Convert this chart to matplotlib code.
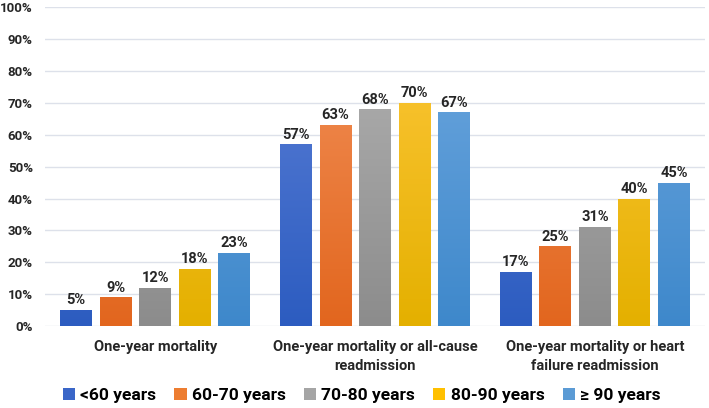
import numpy as np
import matplotlib
matplotlib.use('Agg')
import matplotlib.pyplot as plt
from matplotlib.colors import LinearSegmentedColormap
from matplotlib.ticker import PercentFormatter

plt.rcParams['font.family'] = ['Roboto', 'DejaVu Sans']

# Data
categories = ['One-year mortality',
              'One-year mortality or all-cause\nreadmission',
              'One-year mortality or heart\nfailure readmission']
age_groups = ['<60 years', '60-70 years', '70-80 years', '80-90 years', '\u2265 90 years']
values = [
    [5, 57, 17],   # <60
    [9, 63, 25],   # 60-70
    [12, 68, 31],  # 70-80
    [18, 70, 40],  # 80-90
    [23, 67, 45],  # >=90
]

# (top colour, bottom colour, legend colour) for each series
colours = [
    ('#5f82d8', '#2c5cc0', '#3a66c8'),
    ('#f3935c', '#e2661e', '#ed7d31'),
    ('#b4b4b4', '#8c8c8c', '#a5a5a5'),
    ('#ffc83d', '#e4b000', '#ffc000'),
    ('#70a9e0', '#3e88cb', '#5b9bd5'),
]

fig = plt.figure(figsize=(7.09, 4.08), dpi=100)
ax = fig.add_axes([0.064, 0.201, 0.930, 0.781])

x = np.arange(len(categories))
pitch = 0.18
width = 0.145
grad = np.linspace(0, 1, 256).reshape(-1, 1)

handles = []
for i, (name, vals) in enumerate(zip(age_groups, values)):
    top, bottom, legc = colours[i]
    pos = x + (i - 2) * pitch
    bars = ax.bar(pos, vals, width, color=legc, label=name, zorder=2)
    cmap = LinearSegmentedColormap.from_list('g%d' % i, [bottom, top])
    for b, v in zip(bars, vals):
        x0 = b.get_x()
        im = ax.imshow(grad, cmap=cmap, origin='lower', aspect='auto',
                       extent=(x0, x0 + b.get_width(), 0, 100), zorder=3)
        im.set_clip_path(b)
        ax.annotate('%d%%' % v, (b.get_x() + b.get_width() / 2, v),
                    xytext=(0, 2), textcoords='offset points',
                    ha='center', va='bottom', fontsize=10.5,
                    fontweight='bold', color='#262626', zorder=4)
    handles.append(bars)

ax.set_xlim(-0.5, 2.5)
ax.set_ylim(0, 100)
ax.set_yticks(np.arange(0, 101, 10))
ax.yaxis.set_major_formatter(PercentFormatter(decimals=0))
ax.set_xticks(x)
ax.set_xticklabels(categories, fontsize=10.5, fontweight='bold', color='#262626',
                   linespacing=1.5)
ax.tick_params(axis='y', labelsize=9.5, colors='#262626', length=0, pad=9)
ax.tick_params(axis='x', length=0, pad=10)
for lab in ax.get_yticklabels():
    lab.set_fontweight('bold')
ax.grid(axis='y', color='#dde1ea', linewidth=1.0, zorder=0)
ax.set_axisbelow(True)
for s in ax.spines.values():
    s.set_visible(False)

fig.legend(handles=handles, labels=age_groups, loc='center',
           bbox_to_anchor=(0.51, 0.03), ncol=5, frameon=False,
           handlelength=0.7, handleheight=0.7, handletextpad=0.3,
           columnspacing=1.05,
           prop={'size': 12.5, 'weight': 'bold'})

fig.savefig('out.png', dpi=100)
